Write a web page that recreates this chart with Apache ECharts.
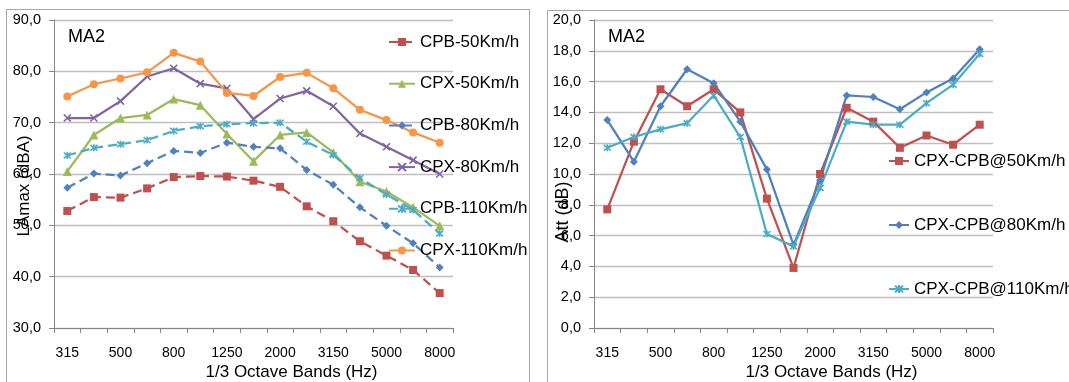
<!DOCTYPE html>
<html>
<head>
<meta charset="utf-8">
<script src="https://cdn.jsdelivr.net/npm/echarts@6/dist/echarts.min.js"></script>
<style>
html,body{margin:0;padding:0;background:#fff;}
#chart{width:1069px;height:382px;}
</style>
</head>
<body>
<div id="chart"></div>
<script>
const categories = ['315','400','500','630','800','1000','1250','1600','2000','2500','3150','4000','5000','6300','8000'];

const cpb50  = [52.8,55.5,55.4,57.2,59.4,59.6,59.5,58.7,57.5,53.7,50.8,46.9,44.1,41.3,36.8];
const cpx50  = [60.5,67.6,70.9,71.5,74.6,73.4,67.8,62.5,67.6,68.1,64.2,58.5,56.6,53.5,49.9];
const cpb80  = [57.3,60.1,59.7,62.1,64.5,64.1,66.1,65.3,65.0,60.8,57.9,53.5,49.9,46.5,41.8];
const cpx80  = [70.9,70.9,74.2,79.0,80.6,77.6,76.7,70.7,74.7,76.2,73.2,67.9,65.3,62.7,60.0];
const cpb110 = [63.6,65.1,65.8,66.6,68.4,69.3,69.7,69.9,70.0,66.3,63.7,59.2,56.0,53.0,48.4];
const cpx110 = [75.1,77.5,78.6,79.8,83.6,81.9,75.8,75.2,78.9,79.7,76.7,72.5,70.5,68.1,66.1];

const att50  = [7.7,12.1,15.5,14.4,15.5,14.0,8.4,3.9,10.0,14.3,13.4,11.7,12.5,11.9,13.2];
const att80  = [13.5,10.8,14.4,16.8,15.9,13.4,10.3,5.4,9.6,15.1,15.0,14.2,15.3,16.2,18.1];
const att110 = [11.7,12.4,12.9,13.3,15.1,12.4,6.1,5.3,9.1,13.4,13.2,13.2,14.6,15.8,17.8];

const leftNames  = ['CPB-50Km/h','CPX-50Km/h','CPB-80Km/h','CPX-80Km/h','CPB-110Km/h','CPX-110Km/h'];
const rightNames = ['CPX-CPB@50Km/h','CPX-CPB@80Km/h','CPX-CPB@110Km/h'];
const panelTitle = 'MA2';
const xTitle = '1/3 Octave Bands (Hz)';
const leftYTitle = 'LAmax (dBA)';
const rightYTitle = 'Att (dB)';

const FONT = '"Liberation Sans", Arial, sans-serif';
const RED = '#C0504D', GREEN = '#9BBB59', BLUE = '#4F81BD', PURPLE = '#8064A2', CYAN = '#4BACC6', ORANGE = '#F79646';
const XSYM = 'path://M0,0L10,10M10,0L0,10';
const STARSYM = 'path://M0,0L10,10M10,0L0,10M5,-1L5,11';

const chart = echarts.init(document.getElementById('chart'), null, {renderer: 'canvas'});

function fmt(v){ return v.toFixed(1).replace('.', ','); }

function xAxis(gi){
  return {
    type: 'category', gridIndex: gi, data: categories, boundaryGap: true,
    axisLine: {show: true, lineStyle: {color: '#868686', width: 1}},
    axisTick: {show: true, interval: 0, length: 5, lineStyle: {color: '#868686'}},
    axisLabel: {interval: 1, margin: 18, fontSize: 14, color: '#000', fontFamily: FONT},
    splitLine: {show: false}
  };
}
function yAxis(gi, min, max, interval){
  return {
    type: 'value', gridIndex: gi, min: min, max: max, interval: interval,
    axisLine: {show: true, lineStyle: {color: '#868686', width: 1}},
    axisTick: {show: true, length: 5, lineStyle: {color: '#868686'}},
    axisLabel: {margin: 13, fontSize: 14.5, color: '#000', fontFamily: FONT, formatter: fmt},
    splitLine: {show: true, lineStyle: {color: '#BFBFBF', width: 1.3}}
  };
}
function line(name, data, color, dashed, symbol, size, gi, isPath){
  return {
    name: name, type: 'line', xAxisIndex: gi, yAxisIndex: gi, data: data,
    symbol: symbol, symbolSize: size,
    lineStyle: {color: color, width: 2.25, type: dashed ? [9, 5] : 'solid'},
    itemStyle: isPath ? {color: color, borderColor: color, borderWidth: 1.6} : {color: color},
    emphasis: {disabled: true}
  };
}

const option = {
  animation: false,
  backgroundColor: '#fff',
  textStyle: {fontFamily: FONT},
  grid: [
    {left: 54, top: 20, width: 399, height: 308},
    {left: 594, top: 20, width: 399, height: 308}
  ],
  xAxis: [xAxis(0), xAxis(1)],
  yAxis: [yAxis(0, 30, 90, 10), yAxis(1, 0, 20, 2)],
  legend: [
    {
      data: leftNames, orient: 'vertical', left: 388, top: 32, padding: 0,
      itemWidth: 26, itemHeight: 10, itemGap: 21.7,
      textStyle: {fontSize: 17, color: '#000', fontFamily: FONT, lineHeight: 20}
    },
    {
      data: rightNames, orient: 'vertical', left: 888, top: 151, padding: 0,
      itemWidth: 20, itemHeight: 10, itemGap: 44,
      textStyle: {fontSize: 17, color: '#000', fontFamily: FONT, lineHeight: 20}
    }
  ],
  series: [
    line(leftNames[0], cpb50, RED, true, 'rect', 8, 0),
    line(leftNames[1], cpx50, GREEN, false, 'triangle', 9, 0),
    line(leftNames[2], cpb80, BLUE, true, 'diamond', 8, 0),
    line(leftNames[3], cpx80, PURPLE, false, XSYM, 7, 0, true),
    line(leftNames[4], cpb110, CYAN, true, STARSYM, 7, 0, true),
    line(leftNames[5], cpx110, ORANGE, false, 'circle', 8, 0),
    line(rightNames[0], att50, RED, false, 'rect', 8, 1),
    line(rightNames[1], att80, BLUE, false, 'diamond', 8, 1),
    line(rightNames[2], att110, CYAN, false, STARSYM, 7, 1, true)
  ],
  graphic: [
    {type: 'rect', shape: {x: 6.5, y: 9.5, width: 523, height: 380}, style: {fill: 'none', stroke: '#A6A6A6', lineWidth: 1}, z: 0, silent: true},
    {type: 'rect', shape: {x: 547.5, y: 10.5, width: 540, height: 380}, style: {fill: 'none', stroke: '#A6A6A6', lineWidth: 1}, z: 0, silent: true},
    {type: 'text', x: 68, y: 37, style: {text: panelTitle, font: '18px ' + FONT, fill: '#000', textVerticalAlign: 'middle'}, z: 10},
    {type: 'text', x: 608, y: 37, style: {text: panelTitle, font: '18px ' + FONT, fill: '#000', textVerticalAlign: 'middle'}, z: 10},
    {type: 'text', x: 291.5, y: 372, style: {text: xTitle, font: '17px ' + FONT, fill: '#000', textAlign: 'center', textVerticalAlign: 'middle'}, z: 10},
    {type: 'text', x: 831.5, y: 372, style: {text: xTitle, font: '17px ' + FONT, fill: '#000', textAlign: 'center', textVerticalAlign: 'middle'}, z: 10},
    {type: 'text', x: 24, y: 186, rotation: Math.PI / 2, style: {text: leftYTitle, font: '17px ' + FONT, fill: '#000', textAlign: 'center', textVerticalAlign: 'middle'}, z: 10},
    {type: 'text', x: 563, y: 212, rotation: Math.PI / 2, style: {text: rightYTitle, font: '18px ' + FONT, fill: '#000', textAlign: 'center', textVerticalAlign: 'middle'}, z: 10}
  ]
};
chart.setOption(option);
</script>
</body>
</html>
